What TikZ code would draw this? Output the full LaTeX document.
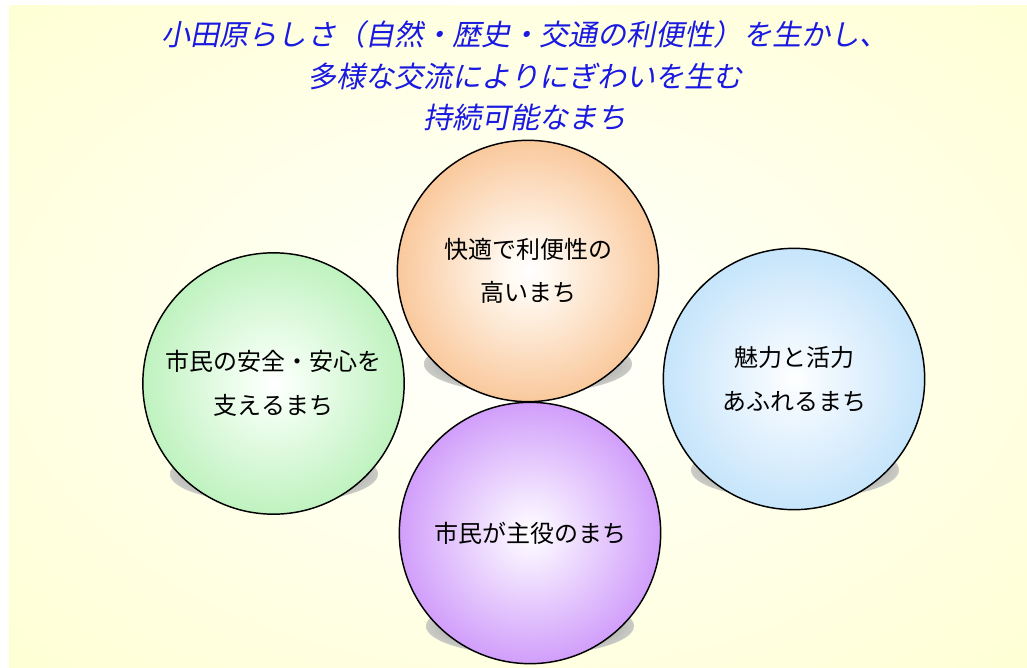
\documentclass[tikz,border=0pt]{standalone}
\usepackage{fontspec}
\usetikzlibrary{shapes.geometric}
\newfontfamily\jp{Noto Sans CJK JP}
\newfontfamily\jpsl{Noto Sans CJK JP}[FakeSlant=0.2]
\definecolor{titleblue}{RGB}{25,25,225}
\pgfdeclareradialshading{bgshade}{\pgfpointorigin}{rgb(0bp)=(1,1,1); rgb(10bp)=(1,1,0.95); rgb(45bp)=(1,1,0.79); rgb(75bp)=(1,1,0.77)}
\pgfdeclareradialshading{orangeball}{\pgfpointorigin}{rgb(0bp)=(1,1,1); rgb(4bp)=(1,0.98,0.95); rgb(29bp)=(0.976,0.75,0.55); rgb(50bp)=(0.976,0.745,0.545)}
\pgfdeclareradialshading{greenball}{\pgfpointorigin}{rgb(0bp)=(1,1,1); rgb(4bp)=(0.96,1,0.96); rgb(29bp)=(0.71,0.94,0.71); rgb(50bp)=(0.69,0.94,0.69)}
\pgfdeclareradialshading{blueball}{\pgfpointorigin}{rgb(0bp)=(1,1,1); rgb(4bp)=(0.96,0.98,1); rgb(29bp)=(0.74,0.88,0.98); rgb(50bp)=(0.72,0.87,0.98)}
\pgfdeclareradialshading{purpleball}{\pgfpointorigin}{rgb(0bp)=(1,1,1); rgb(4bp)=(0.97,0.94,1); rgb(29bp)=(0.79,0.56,0.98); rgb(50bp)=(0.78,0.55,0.98)}
\pgfdeclareradialshading{shadowshade}{\pgfpointorigin}{rgb(0bp)=(0.58,0.58,0.58); rgb(15bp)=(0.62,0.62,0.62); rgb(25bp)=(0.80,0.80,0.78); rgb(50bp)=(0.85,0.85,0.82)}
\tikzset{
  ball/.style={circle, draw=black, line width=1.1pt, minimum size=196pt, inner sep=0pt,
    align=center, font=\jp\fontsize{18}{32.5}\selectfont, text=black},
  shadowell/.style={ellipse, minimum width=156pt, minimum height=44pt, inner sep=0pt, shading=shadowshade},
}
\begin{document}
\begin{tikzpicture}[x=0.75pt, y=-0.75pt]
\path[use as bounding box, fill=white] (0,0) rectangle (1027,667);
\path[shading=bgshade] (9,6) rectangle (1027,667);
% title
\node[text=titleblue, align=center, font=\jpsl\fontsize{21.8}{31}\selectfont] (title) at (525,76)
  {小田原らしさ（自然・歴史・交通の利便性）を生かし、\\多様な交流によりにぎわいを生む\\持続可能なまち};
% shadows
\node[shadowell] (sg) at (274,474) {};
\node[shadowell] (so) at (528,364) {};
\node[shadowell] (sb) at (795,470) {};
\node[shadowell] (sp) at (530,626) {};
% balls
\node[ball, shading=greenball] (green) at (273.5,383.5) {市民の安全・安心を\\支えるまち};
\node[ball, shading=orangeball] (orange) at (528,271) {快適で利便性の\\高いまち};
\node[ball, shading=blueball] (blue) at (794,379) {魅力と活力\\あふれるまち};
\node[ball, shading=purpleball] (purple) at (530,533) {市民が主役のまち};
\end{tikzpicture}
\end{document}
